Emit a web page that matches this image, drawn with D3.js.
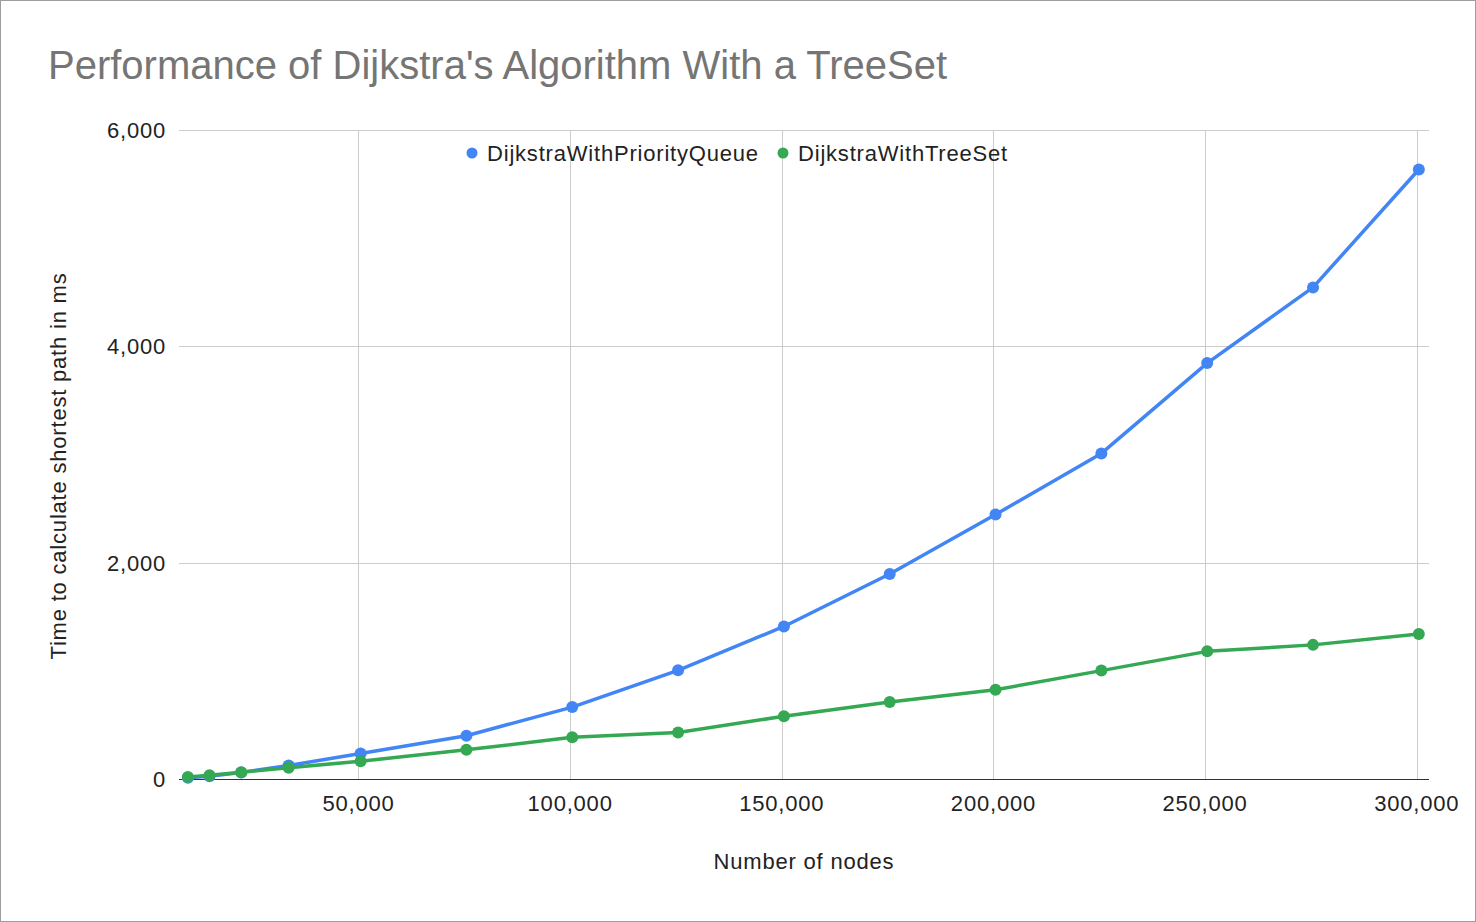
<!DOCTYPE html>
<html lang="en">
<head>
    <meta charset="UTF-8">
    <title>Performance of Dijkstra's Algorithm With a TreeSet</title>
    <style>
        body { margin: 0; background: #fff; }
        svg { display: block; font-family: "Liberation Sans", Arial, sans-serif; }
        .grid line { stroke: #cccccc; stroke-width: 1; shape-rendering: crispEdges; }
        .label { font-size: 22px; fill: #222; letter-spacing: 0.8px; }
    </style>
</head>
<body>
    <div id="chart"></div>
    <script src="https://d3js.org/d3.v7.min.js"></script>
    <script>
        // node counts (x) and timings in ms for each implementation
        const nodes = [9700, 14800, 22300, 33500, 50500, 75500, 100500, 125500, 150500,
                       175500, 200500, 225500, 250500, 275500, 300500];
        const priorityQueueMs = [12, 25, 60, 125, 235, 400, 665, 1005, 1410, 1895,
                                 2445, 3010, 3845, 4545, 5635];
        const treeSetMs = [18, 35, 62, 105, 165, 270, 385, 430, 580, 712,
                           825, 1002, 1180, 1240, 1340];
        const seriesNames = ["DijkstraWithPriorityQueue", "DijkstraWithTreeSet"];
        const seriesColors = ["#4285f4", "#34a853"];
        const xTicks = [50000, 100000, 150000, 200000, 250000, 300000];
        const yTicks = [0, 2000, 4000, 6000];

        const width = 1476;
        const height = 922;
        const plot = {left: 179, right: 1429, top: 130, bottom: 779};

        const svg = d3.select("#chart").append("svg")
            .attr("width", width)
            .attr("height", height);

        svg.append("rect")
            .attr("x", 0.5).attr("y", 0.5)
            .attr("width", width - 1).attr("height", height - 1)
            .attr("fill", "#fff")
            .attr("stroke", "#9e9e9e");

        const x = d3.scaleLinear().domain([7600, 302900]).range([plot.left, plot.right]);
        const y = d3.scaleLinear().domain([0, 6000]).range([plot.bottom, plot.top]);
        const fmt = d3.format(",");

        // gridlines
        svg.append("g").attr("class", "grid")
            .selectAll("line")
            .data(yTicks.filter(d => d > 0))
            .join("line")
            .attr("x1", plot.left).attr("x2", plot.right)
            .attr("y1", d => Math.round(y(d)) + 0.5)
            .attr("y2", d => Math.round(y(d)) + 0.5);

        svg.append("g").attr("class", "grid")
            .selectAll("line")
            .data(xTicks)
            .join("line")
            .attr("x1", d => Math.round(x(d)) + 0.5)
            .attr("x2", d => Math.round(x(d)) + 0.5)
            .attr("y1", plot.top).attr("y2", plot.bottom);

        // baseline
        svg.append("line")
            .attr("x1", plot.left).attr("x2", plot.right)
            .attr("y1", plot.bottom + 0.5).attr("y2", plot.bottom + 0.5)
            .attr("stroke", "#333")
            .attr("stroke-width", 1.2);

        // tick labels
        svg.append("g")
            .selectAll("text")
            .data(yTicks)
            .join("text")
            .attr("class", "label")
            .attr("x", 166)
            .attr("y", d => y(d))
            .attr("dy", "0.36em")
            .attr("text-anchor", "end")
            .text(fmt);

        svg.append("g")
            .selectAll("text")
            .data(xTicks)
            .join("text")
            .attr("class", "label")
            .attr("x", d => x(d))
            .attr("y", 811)
            .attr("text-anchor", "middle")
            .text(fmt);

        // title and axis titles
        svg.append("text")
            .attr("x", 48).attr("y", 79)
            .attr("font-size", 40)
            .attr("fill", "#757575")
            .text("Performance of Dijkstra's Algorithm With a TreeSet");

        svg.append("text")
            .attr("class", "label")
            .attr("x", 804).attr("y", 869)
            .attr("text-anchor", "middle")
            .text("Number of nodes");

        svg.append("text")
            .attr("class", "label")
            .attr("transform", "translate(66,466) rotate(-90)")
            .attr("text-anchor", "middle")
            .text("Time to calculate shortest path in ms");

        // series
        const series = [priorityQueueMs, treeSetMs].map((vals, i) => ({
            name: seriesNames[i],
            color: seriesColors[i],
            points: vals.map((v, j) => ({x: nodes[j], y: v}))
        }));

        const line = d3.line().x(d => x(d.x)).y(d => y(d.y));

        const g = svg.append("g")
            .selectAll("g")
            .data(series)
            .join("g");

        g.append("path")
            .attr("d", d => line(d.points))
            .attr("fill", "none")
            .attr("stroke", d => d.color)
            .attr("stroke-width", 3.5)
            .attr("stroke-linejoin", "round");

        g.selectAll("circle")
            .data(d => d.points.map(p => ({...p, color: d.color})))
            .join("circle")
            .attr("cx", d => x(d.x))
            .attr("cy", d => y(d.y))
            .attr("r", 6)
            .attr("fill", d => d.color);

        // legend
        const legendX = [472, 783];
        const legend = svg.append("g")
            .selectAll("g")
            .data(series)
            .join("g")
            .attr("transform", (d, i) => `translate(${legendX[i]},153)`);

        legend.append("circle")
            .attr("r", 5.5)
            .attr("fill", d => d.color);

        legend.append("text")
            .attr("class", "label")
            .attr("x", 15)
            .attr("dy", "0.36em")
            .text(d => d.name);
    </script>
</body>
</html>
